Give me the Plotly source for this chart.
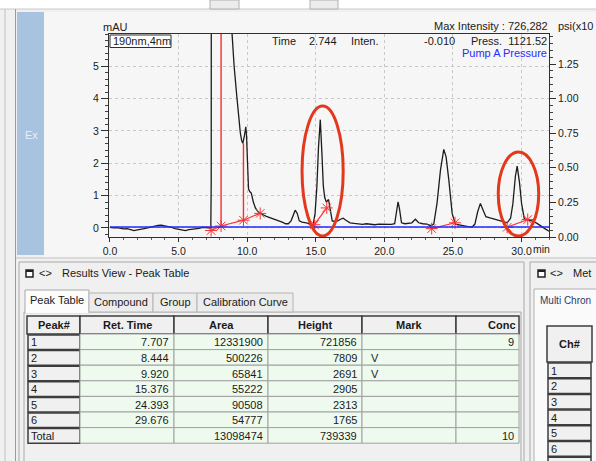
import plotly.graph_objects as go

W, H = 596, 461
FONT = "Liberation Sans"

# ---------------- chromatogram data (min, mAU) ----------------
time_min = [0.0, 0.25, 0.5, 0.75, 1.0, 1.25, 1.5, 1.75, 2.0, 2.25, 2.5, 2.75, 3.0, 3.25, 3.5, 3.75,
            4.0, 4.25, 4.5, 4.75, 5.0, 5.25, 5.5, 5.75, 6.0, 6.25, 6.5, 6.75, 7.0, 7.2, 7.35, 7.38,
            7.42, 7.71, 8.5, 8.9, 9.05, 9.25, 9.4, 9.5, 9.6, 9.68, 9.8, 9.9, 9.95, 10.02, 10.1,
            10.2, 10.3, 10.45, 10.6, 10.8, 11.0, 11.2, 11.4, 11.6, 11.8, 12.0, 12.2, 12.4, 12.6,
            12.8, 13.0, 13.2, 13.35, 13.5, 13.65, 13.8, 14.0, 14.2, 14.4, 14.6, 14.8, 14.95, 15.08,
            15.2, 15.33, 15.45, 15.55, 15.65, 15.77, 15.93, 16.05, 16.2, 16.4, 16.6, 16.8, 17.0,
            17.2, 17.5, 17.8, 18.1, 18.4, 18.7, 19.0, 19.3, 19.6, 19.9, 20.2, 20.5, 20.75, 20.9,
            21.0, 21.1, 21.25, 21.5, 21.8, 22.0, 22.26, 22.5, 22.8, 23.1, 23.4, 23.6, 23.84, 24.09,
            24.33, 24.5, 24.7, 24.94, 25.18, 25.5, 25.8, 26.1, 26.4, 26.6, 26.8, 27.0, 27.2, 27.4,
            27.7, 28.0, 28.3, 28.6, 28.95, 29.2, 29.37, 29.55, 29.68, 29.85, 30.0, 30.2, 30.5,
            30.8, 31.1, 31.4, 31.7, 32.0]
signal_mau = [0.02, 0.0, 0.01, -0.02, -0.03, -0.02, -0.05, -0.08, -0.06, -0.03, -0.02, 0.0, 0.03,
              0.05, 0.08, 0.09, 0.07, 0.05, 0.02, -0.02, -0.04, -0.07, -0.08, -0.05, -0.04, -0.02,
              -0.01, 0.02, 0.01, 0.02, 0.0, 1.4, 40.0, 721.9, 20.0, 6.0, 5.0, 4.05, 3.3, 2.95, 2.7,
              2.62, 2.85, 3.13, 2.9, 1.8, 1.2, 1.12, 1.08, 0.8, 0.62, 0.5, 0.44, 0.4, 0.36, 0.33,
              0.3, 0.28, 0.25, 0.22, 0.17, 0.13, 0.13, 0.22, 0.42, 0.55, 0.45, 0.22, 0.18, 0.17,
              0.15, 0.12, 0.08, 0.45, 1.27, 2.5, 3.35, 2.3, 1.3, 0.95, 0.8, 0.88, 0.6, 0.22, 0.2,
              0.22, 0.27, 0.3, 0.24, 0.16, 0.14, 0.12, 0.11, 0.13, 0.11, 0.1, 0.12, 0.11, 0.1, 0.11,
              0.13, 0.5, 0.81, 0.6, 0.16, 0.13, 0.14, 0.16, 0.27, 0.16, 0.13, 0.12, 0.07, 0.12, 0.77,
              1.79, 2.43, 2.2, 1.48, 0.45, 0.12, 0.09, 0.07, 0.04, 0.03, 0.12, 0.5, 0.76, 0.55,
              0.35, 0.31, 0.28, 0.24, 0.2, 0.16, 0.3, 0.76, 1.6, 1.91, 1.4, 0.76, 0.28, 0.24, 0.21,
              0.15, 0.05, -0.02, -0.1]
assert len(time_min) == len(signal_mau)

pressure_time = [0.0, 32.0]
pressure_val = [0.073, 0.073]

# integration baselines / drop lines / peak-boundary marks
base_x = [7.37, 8.1, 9.73, 10.92, None, 14.9, 15.8, None, 23.45, 25.15, None, 28.95, 30.45]
base_y = [-0.08, 0.06, 0.24, 0.45, None, 0.1, 0.62, None, -0.02, 0.16, None, 0.02, 0.26]
drop_x = [8.1, 8.1, None, 9.73, 9.73]
drop_y = [0.06, 6.5, None, 0.24, 2.62]
mark_x = [7.37, 8.1, 9.73, 10.95, 14.9, 15.8, 23.45, 25.15, 28.95, 30.45]
mark_y = [-0.08, 0.06, 0.24, 0.45, 0.1, 0.62, -0.02, 0.16, 0.02, 0.26]

# highlight ellipses (min, mAU)
ell_x0 = [14.0, 28.3]
ell_x1 = [17.0, 31.25]
ell_y0 = [-0.25, -0.25]
ell_y1 = [3.77, 2.35]

x_ticks = [0, 5, 10, 15, 20, 25, 30]
x_ticktext = ["0.0", "5.0", "10.0", "15.0", "20.0", "25.0", "30.0"]
y_ticks = [0, 1, 2, 3, 4, 5]
y2_ticks = [0.0, 0.25, 0.5, 0.75, 1.0, 1.25]
y2_ticktext = ["0.00", "0.25", "0.50", "0.75", "1.00", "1.25"]

# ---------------- peak table ----------------
table_cols = ["Peak#", "Ret. Time", "Area", "Height", "Mark", "Conc"]
peak_no = ["1", "2", "3", "4", "5", "6", "Total"]
ret_time = ["7.707", "8.444", "9.920", "15.376", "24.393", "29.676", ""]
area = ["12331900", "500226", "65841", "55222", "90508", "54777", "13098474"]
height_vals = ["721856", "7809", "2691", "2905", "2313", "1765", "739339"]
mark = ["", "V", "V", "", "", "", ""]
conc = ["9", "", "", "", "", "", "10"]
tabs = ["Peak Table", "Compound", "Group", "Calibration Curve"]
ch_no = ["1", "2", "3", "4", "5", "6", ""]

# ---------------- helpers (pixel layout -> paper) ----------------
shapes = []
annotations = []


def rect(x0, y0, x1, y1, fill, line="#a0a0a0", w=1, layer="above"):
    shapes.append(dict(type="rect", xref="paper", yref="paper",
                       x0=x0 / W, x1=x1 / W, y0=1 - y1 / H, y1=1 - y0 / H,
                       fillcolor=fill, line=dict(color=line, width=w), layer=layer))


def hline(x0, x1, y, color="#a0a0a0", w=1, layer="above"):
    shapes.append(dict(type="line", xref="paper", yref="paper",
                       x0=x0 / W, x1=x1 / W, y0=1 - y / H, y1=1 - y / H,
                       line=dict(color=color, width=w), layer=layer))


def vline(x, y0, y1, color="#a0a0a0", w=1, layer="above"):
    shapes.append(dict(type="line", xref="paper", yref="paper",
                       x0=x / W, x1=x / W, y0=1 - y0 / H, y1=1 - y1 / H,
                       line=dict(color=color, width=w), layer=layer))


def text(x, y, s, anchor="left", size=11, color="#1a1a1a", family=FONT):
    annotations.append(dict(x=x / W, y=1 - y / H, xref="paper", yref="paper", text=s,
                            showarrow=False, xanchor=anchor, yanchor="middle",
                            borderpad=0, font=dict(size=size, color=color, family=family)))


# ---------------- background chrome ----------------
rect(0, 0, 596, 9, "#ffffff", line="#ffffff", w=0, layer="below")
hline(0, 596, 9, "#c8c8c8", layer="below")
rect(210, 0, 239, 9, "#ececec", line="#b0b0b0", layer="below")
rect(310, 0, 338, 9, "#ececec", line="#b0b0b0", layer="below")
vline(5, 9, 461, "#c0c0c0", layer="below")
vline(15.5, 9, 461, "#9a9a9a", layer="below")
rect(44, 12, 596, 257, "#f6f6f6", line="#f6f6f6", w=0, layer="below")
rect(17, 12, 44, 255, "#a8c3e0", line="#a8c3e0", w=0, layer="below")
text(31, 135, "Ex", anchor="center", size=11, color="#e9eef6")
hline(16, 596, 258, "#c4c4c4")

# lower-left panel
rect(19, 262, 524, 470, "#f0f0f0", line="#a8a8a8")
rect(26, 270, 33, 277, "#ffffff", line="#202020", w=1.5)
hline(26, 33, 271, "#202020", w=2)
text(45, 273, "&lt;&gt;", anchor="center", size=11)
text(61, 273, "Results View - Peak Table", size=11)
rect(24, 312, 521, 470, "#f0f0f0", line="#a8a8a8")
tab_edges = [25, 89, 153, 197, 293]
for i, t in enumerate(tabs):
    if i == 0:
        rect(tab_edges[i], 290, tab_edges[i + 1], 313, "#fcfcfc", line="#a8a8a8")
        hline(tab_edges[i] + 0.5, tab_edges[i + 1] - 0.5, 312.5, "#fcfcfc", w=2)
    else:
        rect(tab_edges[i], 293, tab_edges[i + 1], 312, "#ececec", line="#b4b4b4")
    text((tab_edges[i] + tab_edges[i + 1]) / 2, 302 if i else 300, t, anchor="center", size=11)

# table
col_edges = [27, 80, 174, 268, 362, 456, 519]
head_top, head_bot = 316, 334
row_h = 15.6
for j, c in enumerate(table_cols):
    rect(col_edges[j], head_top, col_edges[j + 1], head_bot, "#f0f0f0", line="#3c3c3c", w=1.5)
    if j == len(table_cols) - 1:
        text(col_edges[j + 1] - 2, 325, "<b>" + c + "</b>", anchor="right", size=11)
    else:
        text((col_edges[j] + col_edges[j + 1]) / 2, 325, "<b>" + c + "</b>", anchor="center", size=11)

columns = [peak_no, ret_time, area, height_vals, mark, conc]
for i in range(len(peak_no)):
    y0 = head_bot + i * row_h
    y1 = y0 + row_h
    yc = (y0 + y1) / 2 + 0.5
    for j, col in enumerate(columns):
        if j == 0:
            rect(col_edges[0] + 1, y0 + 1, col_edges[1], y1, "#f0f0f0", line="#3c3c3c", w=1.5)
            text(col_edges[0] + 3, yc, col[i], anchor="left", size=11)
        else:
            rect(col_edges[j], y0, col_edges[j + 1], y1, "#eefaee", line="#a0a0a0", w=1)
            if j == 4:
                text(col_edges[j] + 8, yc, col[i], anchor="left", size=11)
            else:
                text(col_edges[j + 1] - 4, yc, col[i], anchor="right", size=11)

# lower-right panel
rect(530, 262, 600, 470, "#f0f0f0", line="#a8a8a8")
rect(538, 270, 545, 277, "#ffffff", line="#202020", w=1.5)
hline(538, 545, 271, "#202020", w=2)
text(556, 273, "&lt;&gt;", anchor="center", size=11)
text(572, 273, "Met", size=11)
rect(534, 289, 600, 470, "#fafafa", line="#b0b0b0")
text(539, 300, "Multi Chron", size=10, color="#2a3b6b")
rect(547, 326, 592, 362, "#f0f0f0", line="#3c3c3c", w=1.5)
text(569.5, 344, "<b>Ch#</b>", anchor="center", size=11)
for i, c in enumerate(ch_no):
    y0 = 362 + i * 15.7
    rect(548, y0 + 1, 591, y0 + 15.7, "#f0f0f0", line="#3c3c3c", w=1.5)
    if c:
        text(550, y0 + 8.5, c, anchor="left", size=11)

# ---------------- chart annotations ----------------
text(115, 27, "mAU", anchor="center", size=11)
text(549, 26, "Max Intensity : 726,282", anchor="right", size=11)
text(557, 26, "psi(x10", anchor="left", size=11)
rect(110, 35, 171, 47.5, "#ffffff", line="#303030", w=1)
text(112, 41, "190nm,4nm", anchor="left", size=11)
text(271, 41, "Time", anchor="left", size=11)
text(338, 41, "2.744", anchor="right", size=11)
text(350, 41, "Inten.", anchor="left", size=11)
text(456, 41, "-0.010", anchor="right", size=11)
text(548, 41, "Press.  1121.52", anchor="right", size=11)
text(548, 53, "Pump A Pressure", anchor="right", size=11, color="#2a2aff")
text(532, 249, "min", anchor="left", size=10.5)

for k in range(len(ell_x0)):
    shapes.append(dict(type="circle", xref="x", yref="y", x0=ell_x0[k], x1=ell_x1[k],
                       y0=ell_y0[k], y1=ell_y1[k], line=dict(color="#e2391d", width=3),
                       layer="above"))

# ---------------- traces ----------------
fig = go.Figure()
fig.add_trace(go.Scatter(x=pressure_time, y=pressure_val, mode="lines", yaxis="y2",
                         line=dict(color="#1f2bff", width=1.5), hoverinfo="skip"))
fig.add_trace(go.Scatter(x=time_min, y=signal_mau, mode="lines",
                         line=dict(color="#1c1c1c", width=1.3)))
fig.add_trace(go.Scatter(x=base_x, y=base_y, mode="lines",
                         line=dict(color="#ff3030", width=1.2)))
fig.add_trace(go.Scatter(x=drop_x, y=drop_y, mode="lines",
                         line=dict(color="#ff2a2a", width=1.4)))
fig.add_trace(go.Scatter(x=mark_x, y=mark_y, mode="markers",
                         marker=dict(symbol="asterisk-open", size=10, color="#ff3030",
                                     line=dict(color="#ff3030", width=1))))

axis_font = dict(family=FONT, size=10.5, color="#202020")
fig.update_layout(
    width=W, height=H, autosize=False,
    margin=dict(l=0, r=0, t=0, b=0, pad=0),
    paper_bgcolor="#f0f0f0", plot_bgcolor="#fcfcfc",
    showlegend=False,
    xaxis=dict(domain=[109 / W, 549 / W], range=[-0.07, 32.0], automargin=False,
               tickvals=x_ticks, ticktext=x_ticktext, tickfont=axis_font,
               ticks="outside", ticklen=4, tickcolor="#303030",
               minor=dict(dtick=1, ticklen=2, tickcolor="#606060", showgrid=False),
               showgrid=True, gridcolor="#c8c8c8", griddash="3px,3px", gridwidth=1,
               zeroline=False, showline=True, linecolor="#303030", linewidth=1, mirror=True),
    yaxis=dict(domain=[1 - 237 / H, 1 - 34 / H], range=[-0.28, 6.0], automargin=False,
               tickvals=y_ticks, tickfont=axis_font,
               ticks="outside", ticklen=7, tickcolor="#303030",
               minor=dict(dtick=0.2, ticklen=3, tickcolor="#404040", showgrid=False),
               showgrid=True, gridcolor="#c8c8c8", griddash="3px,3px", gridwidth=1,
               zeroline=False, showline=True, linecolor="#303030", linewidth=1, mirror=True),
    yaxis2=dict(overlaying="y", side="right", anchor="x", range=[0, 1.467], automargin=False,
                tickvals=y2_ticks, ticktext=y2_ticktext, tickfont=axis_font,
                ticks="outside", ticklen=6, tickcolor="#303030",
                minor=dict(dtick=0.05, ticklen=3, tickcolor="#404040", showgrid=False),
                showgrid=False, zeroline=False, showline=True, linecolor="#303030"),
    shapes=shapes, annotations=annotations,
)

fig.write_html("out.html", config={"displayModeBar": False},
               post_script="document.body.style.margin='0';")
